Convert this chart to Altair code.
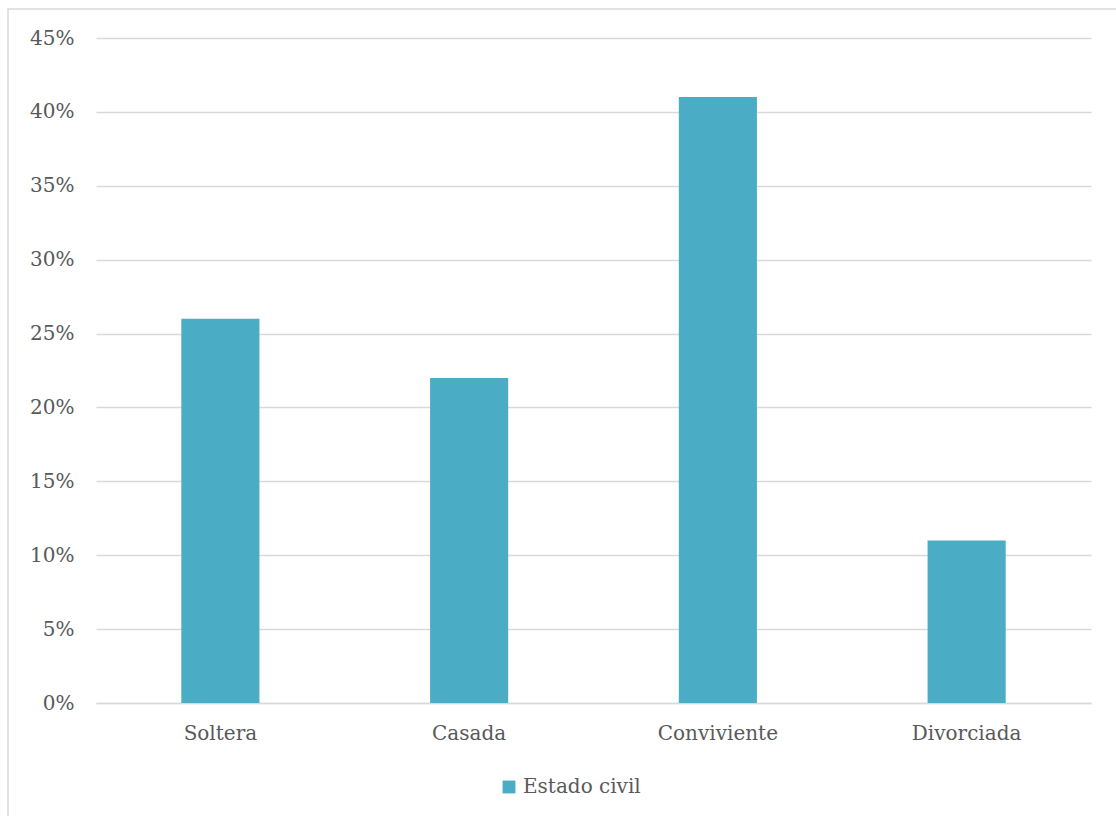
import altair as alt
import pandas as pd

categorias = ["Soltera", "Casada", "Conviviente", "Divorciada"]
valores = [0.26, 0.22, 0.41, 0.11]
serie = ["Estado civil"] * 4

df = pd.DataFrame({"cat": categorias, "val": valores, "serie": serie})

FONT = "DejaVu Serif"
GRAY = "#595959"
FS = 20

border = alt.Chart(pd.DataFrame({"a": [0]})).mark_rect(
    fill=None, stroke="#D9D9D9", strokeWidth=1.5, clip=False
).encode(
    x=alt.value(-88), x2=alt.value(1040), y=alt.value(-29), y2=alt.value(800)
)

bars = alt.Chart(df).mark_bar(opacity=1).encode(
    x=alt.X("cat:N", sort=categorias, title=None,
            scale=alt.Scale(paddingInner=0.686, paddingOuter=0.343),
            axis=alt.Axis(labelAngle=0, labelFont=FONT, labelFontSize=FS, labelColor=GRAY,
                          domainColor="#D9D9D9", domainWidth=1.5, ticks=False, labelPadding=20)),
    y=alt.Y("val:Q", title=None,
            scale=alt.Scale(domain=[0, 0.45]),
            axis=alt.Axis(format=".0%", values=[i / 100 for i in range(0, 50, 5)],
                          labelFont=FONT, labelFontSize=FS, labelColor=GRAY,
                          domain=False, ticks=False, labelPadding=22,
                          gridColor="#D9D9D9", gridWidth=1.5)),
    color=alt.Color("serie:N", title=None,
                    scale=alt.Scale(range=["#4BACC6"]),
                    legend=alt.Legend(orient="none", legendX=403, legendY=739,
                                      symbolType="square", symbolSize=165,
                                      symbolStrokeWidth=0, labelFont=FONT,
                                      labelFontSize=FS, labelColor=GRAY, labelOffset=4)),
)

chart = alt.layer(border, bars).properties(
    width=995, height=665,
    autosize=alt.AutoSizeParams(type="none"),
    padding={"left": 96, "top": 38, "right": 25, "bottom": 113},
).configure(font=FONT).configure_view(stroke=None).configure_legend(
    labelFont=FONT, labelFontSize=FS, labelColor=GRAY
)

chart.save("out.html", embed_options={"renderer": "svg", "actions": False})
